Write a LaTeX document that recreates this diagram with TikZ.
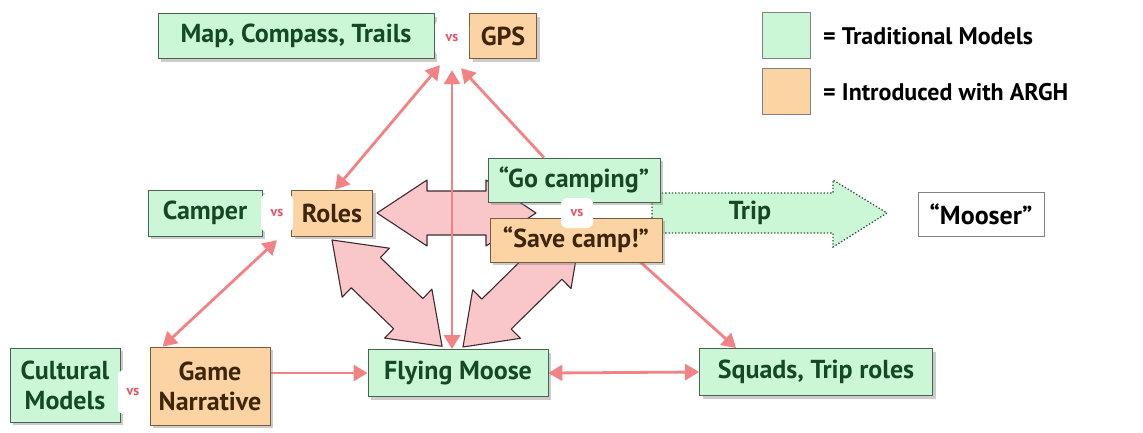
\documentclass[tikz,border=0pt]{standalone}
\usepackage{fontspec}
\setmainfont{PT Sans}
\usepackage{xcolor}
\usepackage{tikz}
\usetikzlibrary{arrows.meta,shadows,backgrounds}

\definecolor{tradfill}{RGB}{204,247,214}
\definecolor{tradline}{RGB}{70,100,80}
\definecolor{tradtext}{RGB}{20,72,38}
\definecolor{arghfill}{RGB}{252,212,164}
\definecolor{arghline}{RGB}{120,90,60}
\definecolor{arghtext}{RGB}{62,38,12}
\definecolor{vsred}{RGB}{232,84,104}
\definecolor{linkred}{RGB}{242,130,132}
\definecolor{blockpink}{RGB}{249,198,202}
\definecolor{blockline}{RGB}{62,42,46}
\definecolor{tripline}{RGB}{40,80,55}
\definecolor{legline}{RGB}{130,130,130}

\begin{document}
\begin{tikzpicture}[x=1pt,y=-1pt,
    box/.style={draw,line width=0.8pt,inner sep=0pt,align=center,
        font=\fontsize{26}{30}\selectfont\bfseries,
        drop shadow={shadow xshift=3pt,shadow yshift=-3pt,opacity=0.4}},
    trad/.style={box,draw=tradline,fill=tradfill,text=tradtext},
    argh/.style={box,draw=arghline,fill=arghfill,text=arghtext},
    vsbox/.style={fill=white,rounded corners=6pt,inner sep=0pt,text=vsred,
        font=\fontsize{14}{15}\selectfont\bfseries},
    legbox/.style={draw=legline,line width=1pt,inner sep=0pt,
        minimum width=48pt,minimum height=46pt},
    legtext/.style={anchor=west,inner sep=0pt,font=\fontsize{24}{28}\selectfont\bfseries},
    link/.style={draw=linkred,line width=2.8pt},
    blockarrow/.style={fill=blockpink,draw=blockline,line width=1.1pt,line join=round}]
\useasboundingbox (0,0) rectangle (1143,432);
\begin{scope}[>={Triangle[length=14pt,width=16pt]}]

    \node[trad,minimum width=276pt,minimum height=45pt] (maps) at (296,36) {Map, Compass, Trails};
    \node[argh,minimum width=67pt,minimum height=45pt] (gps) at (503,36) {GPS};
    \node[vsbox,minimum width=34pt,minimum height=36pt] (topvs) at (452,38) {vs};

    \node[legbox,fill=tradfill] (legtrad) at (786,35) {};
    \node[legbox,fill=arghfill] (legargh) at (786,91) {};
    \node[legtext] (legtradtext) at (823,36) {= Traditional Models};
    \node[legtext] (legarghtext) at (823,92) {= Introduced with ARGH};

    \node[trad,minimum width=114pt,minimum height=46pt] (camper) at (205,213) {Camper};
    \node[argh,minimum width=81pt,minimum height=46pt] (roles) at (332,213) {Roles};
    \node[vsbox,minimum width=32pt,minimum height=38pt] (midvs) at (277,213) {vs};

    \node[trad,minimum width=172pt,minimum height=44pt] (gocamp) at (574,180) {``Go camping''};
    \node[argh,minimum width=172pt,minimum height=44pt] (savecamp) at (576,240) {``Save camp!''};
    \node[vsbox,minimum width=32pt,minimum height=30pt] (tripvs) at (577,213) {vs};
    \node[inner sep=0pt,text=tradtext,font=\fontsize{26}{30}\selectfont\bfseries] (trip) at (750,213) {Trip};

    \node[draw=legline,line width=1pt,fill=white,minimum width=126pt,minimum height=44pt,
        inner sep=0pt,font=\fontsize{26}{30}\selectfont\bfseries] (mooser) at (981,214) {``Mooser''};

    \node[trad,minimum width=110pt,minimum height=74pt] (cultural) at (65,385) {Cultural\\Models};
    \node[argh,minimum width=120pt,minimum height=78pt] (game) at (210,386) {Game\\Narrative};
    \node[vsbox,minimum width=30pt,minimum height=44pt] (lowvs) at (133,392) {vs};

    \node[trad,minimum width=180pt,minimum height=47pt] (moose) at (458,373) {Flying Moose};
    \node[trad,minimum width=233pt,minimum height=47pt] (squads) at (816,372) {Squads, Trip roles};

    \begin{scope}[on background layer]
        \filldraw[blockarrow,shift={(377,213)}] (0,0) -- (50,33) -- (50,22) -- (109,22) -- (109,33)
            -- (159,0) -- (109,-33) -- (109,-22) -- (50,-22) -- (50,-33) -- cycle;
        \filldraw[blockarrow,shift={(332,240)},rotate=-44] (0,0) -- (47,34) -- (47,21) -- (106,21)
            -- (106,34) -- (153,0) -- (106,-34) -- (106,-21) -- (47,-21) -- (47,-34) -- cycle;
        \filldraw[blockarrow,shift={(463,347)},rotate=44.5] (0,0) -- (47,34) -- (47,21) -- (118,21)
            -- (118,34) -- (165,0) -- (118,-34) -- (118,-21) -- (47,-21) -- (47,-34) -- cycle;

        \filldraw[fill=tradfill,draw=tripline,line width=1.3pt,dotted] (652,193) -- (833,193)
            -- (833,180) -- (887,213) -- (833,247) -- (833,233) -- (652,233) -- cycle;

        \draw[link,<->] ([xshift=3pt]roles.north) -- ([xshift=-12pt,yshift=-9pt]topvs.south);
        \draw[link,<->] ([xshift=-6pt]moose.north) -- ([yshift=-14pt]topvs.south);
        \draw[link,->] ([xshift=-30pt]gocamp.north) -- ([xshift=9pt,yshift=-12pt]topvs.south);
        \draw[link,<->] ([xshift=13pt]game.north west) -- ([yshift=-8pt]midvs.south);
        \draw[link,->] (game.east |- moose.west) -- (moose.west);
        \draw[link,<->] (moose.east) -- (squads.west);
        \draw[link,->] (gocamp.south) -- ([xshift=37pt]squads.north west);
    \end{scope}

\end{scope}
\end{tikzpicture}
\end{document}
